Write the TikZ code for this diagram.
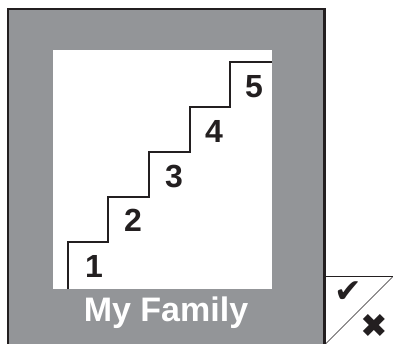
\documentclass[tikz,border=0pt]{standalone}
\usepackage{fontspec}
\setmainfont{Liberation Sans}
\newfontfamily\symfont{DejaVu Sans}
\definecolor{framegray}{HTML}{939598}
\definecolor{ink}{HTML}{231F20}
\begin{document}
\begin{tikzpicture}[x=1pt,y=-1pt,
  num/.style={font=\bfseries\fontsize{32}{32}\selectfont, text=ink, inner sep=0pt},
  sym/.style={font=\symfont\fontsize{33}{33}\selectfont, text=ink, inner sep=0pt}]
\useasboundingbox (0,0) rectangle (393,344);
% frame
\fill[framegray] (8,9) rectangle (324.5,346);
\draw[ink, line width=2.5pt] (8,346) -- (8,9) -- (324.5,9) -- (324.5,346);
% white picture
\fill[white] (53,50) rectangle (272,289);
% stairs
\draw[ink, line width=2.5pt] (68,289) -- (68,242) -- (108,242) -- (108,197) -- (149,197) -- (149,152) -- (190,152) -- (190,107) -- (230,107) -- (230,62) -- (272,62);
\node[num] (n1) at (94,266) {1};
\node[num] (n2) at (133,220) {2};
\node[num] (n3) at (174,177) {3};
\node[num] (n4) at (214,131) {4};
\node[num] (n5) at (254,87) {5};
% label
\node[font=\bfseries\fontsize{34}{34}\selectfont, text=white, inner sep=0pt] (lbl) at (166,313) {My Family};
% check box
\draw[ink, line width=1.3pt] (324.5,276.5) -- (393,276.5);
\draw[ink, line width=0.6pt] (392.5,277) -- (325.5,344);
\node[sym] (chk) at (348,292) {✔};
\node[sym] (crs) at (374,326) {✖};
\end{tikzpicture}
\end{document}
